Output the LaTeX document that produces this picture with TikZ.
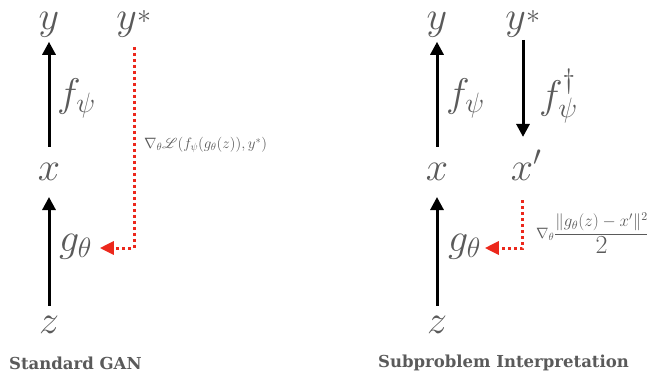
\documentclass[tikz,border=0pt]{standalone}
\usepackage{fix-cm}
\usepackage{amsmath}
\usepackage{mathrsfs}
\usepackage{fontspec}
\newfontfamily\titlefont{DejaVu Serif}
\usetikzlibrary{arrows.meta}
\definecolor{txtgray}{RGB}{90,90,90}
\definecolor{gradred}{RGB}{236,40,28}
\newcommand{\ystar}{y^{\raisebox{-9pt}{$\scriptstyle *$}}}
\tikzset{
  bigmath/.style={inner sep=0pt, outer sep=0pt, text=txtgray, font=\fontsize{40}{44}\selectfont},
  smallmath/.style={inner sep=0pt, outer sep=0pt, text=txtgray, font=\fontsize{15}{18}\selectfont},
  titletext/.style={inner sep=0pt, text=txtgray, font=\titlefont\bfseries\fontsize{16.5}{19}\selectfont},
  blackarrow/.style={line width=3pt, -{Triangle[width=13pt,length=13pt]}},
  redarrow/.style={draw=gradred, line width=3pt, dash pattern=on 3pt off 3pt, -{Triangle[width=13pt,length=14pt,fill=gradred]}}
}
\begin{document}
\begin{tikzpicture}[x=1pt,y=-1pt]
\useasboundingbox (0,0) rectangle (647,375);
% ---------- left panel ----------
\node[bigmath, anchor=base] (y1) at (49,29) {$y$};
\node[bigmath, anchor=base] (ys1) at (134,29) {$\ystar$};
\node[bigmath, anchor=base west] (f1) at (57,106) {$f_\psi$};
\node[bigmath, anchor=base] (x1) at (49,180) {$x$};
\node[bigmath, anchor=base west] (g1) at (59,251) {$g_\theta$};
\node[bigmath, anchor=base] (z1) at (49,333) {$z$};
\coordinate (c1) at (134,248);
\node[smallmath, anchor=west] (L1) at (144,145) {$\nabla_\theta\mathscr{L}(f_\psi(g_\theta(z)),y^*)$};
\draw[blackarrow, shorten <=16pt, shorten >=5pt] (x1.north) -- (y1.south);
\draw[blackarrow, shorten <=10pt, shorten >=17pt] (z1.north) -- (x1.south);
\draw[redarrow, shorten <=10pt, shorten >=8pt] (ys1.south -| c1) -- (c1) -- (c1 -| g1.east);
\node[titletext, anchor=west] (t1) at (9,363) {Standard GAN};
% ---------- right panel ----------
\node[bigmath, anchor=base] (y2) at (437,29) {$y$};
\node[bigmath, anchor=base] (ys2) at (523,29) {$\ystar$};
\node[bigmath, anchor=base west] (f2) at (446,106) {$f_\psi$};
\node[bigmath, anchor=base west] (fd) at (539,108) {$f_\psi^\dagger$};
\node[bigmath, anchor=base] (x2) at (437,180) {$x$};
\node[bigmath, anchor=base] (xp) at (526,180) {$x'$};
\node[bigmath, anchor=base west] (g2) at (448,251) {$g_\theta$};
\node[bigmath, anchor=base] (z2) at (437,333) {$z$};
\coordinate (c2) at (522.7,248);
\node[smallmath, anchor=west] (L2) at (536,233) {$\nabla_\theta\mbox{\fontsize{17}{20}\selectfont$\dfrac{\|g_\theta(z)-x'\|^2}{\mbox{\fontsize{26}{26}\selectfont$2$}}$}$};
\draw[blackarrow, shorten <=16pt, shorten >=5pt] (x2.north) -- (y2.south);
\draw[blackarrow, shorten <=10pt, shorten >=17pt] (z2.north) -- (x2.south);
\draw[blackarrow, shorten <=3pt, shorten >=13pt] (ys2.south) -- (ys2.south |- xp.north);
\draw[redarrow, shorten <=20pt, shorten >=4pt] (c2 |- xp.south) -- (c2) -- (c2 -| g2.east);
\node[titletext, anchor=west] (t2) at (378,363) {Subproblem Interpretation};
\end{tikzpicture}
\end{document}
